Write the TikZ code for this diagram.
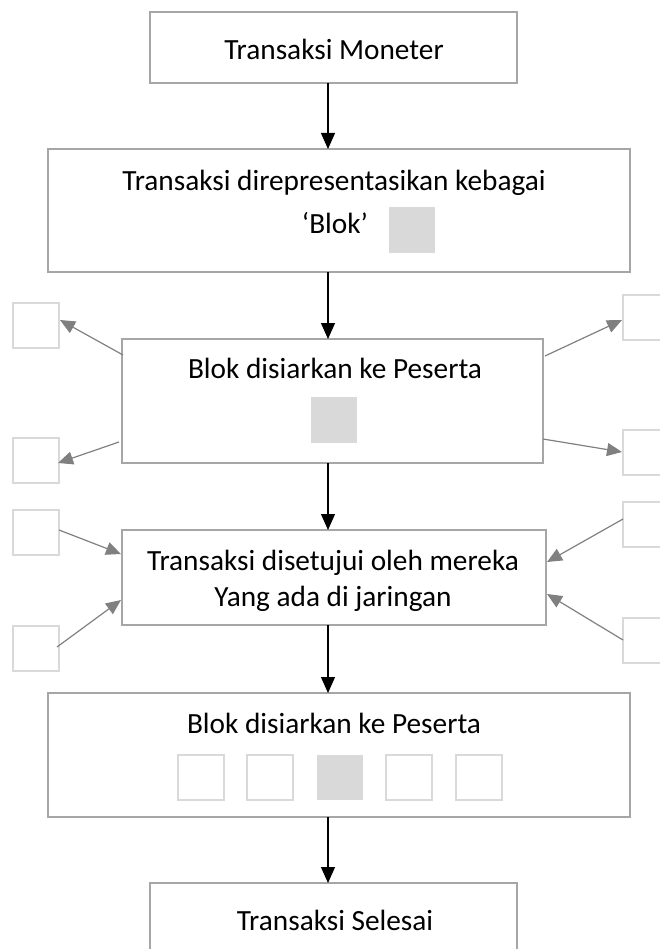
\documentclass[tikz,border=0pt]{standalone}
\usepackage{fontspec}
\setmainfont{Carlito}
\usetikzlibrary{arrows.meta,calc}
\definecolor{boxgray}{HTML}{A6A6A6}
\definecolor{peergray}{HTML}{D9D9D9}
\definecolor{arrowgray}{HTML}{808080}

\begin{document}
\begin{tikzpicture}[x=1pt,y=-1pt,
  stage/.style={draw=boxgray, line width=2pt, anchor=north west, inner sep=0pt, outer sep=0pt},
  peer/.style={draw=peergray, line width=2pt, anchor=north west, minimum width=46pt, minimum height=45pt, inner sep=0pt, outer sep=0pt},
  block/.style={fill=peergray, draw=none, anchor=north west, minimum width=46pt, minimum height=46pt, inner sep=0pt},
  stagetext/.style={anchor=base, font=\fontsize{29.3}{35}\selectfont, inner sep=0pt},
  flow/.style={-{Triangle[length=16pt,width=14pt]}, line width=1.2pt, black},
  spread/.style={-{Triangle[length=15pt,width=13pt]}, line width=1.2pt, arrowgray}]

\useasboundingbox (0,0) rectangle (659,949);

% vertical spine of the flow
\coordinate (spine) at (328,0);

% stages
\node[stage, minimum width=367pt, minimum height=71pt]  (b1) at (150,12)  {};
\node[stage, minimum width=582pt, minimum height=123pt] (b2) at (48,149)  {};
\node[stage, minimum width=421pt, minimum height=124pt] (b3) at (122,339) {};
\node[stage, minimum width=424pt, minimum height=95pt]  (b4) at (122,530) {};
\node[stage, minimum width=582pt, minimum height=124pt] (b5) at (48,693)  {};
\node[stage, minimum width=367pt, minimum height=90pt]  (b6) at (150,883) {};

% stage texts
\node[stagetext] (t1)  at (334,60)  {Transaksi Moneter};
\node[stagetext] (t2a) at (334,191) {Transaksi direpresentasikan kebagai};
\node[stagetext] (t2b) at (335,234) {‘Blok’};
\node[stagetext] (t3)  at (335,378) {Blok disiarkan ke Peserta};
\node[stagetext] (t4a) at (333,570) {Transaksi disetujui oleh mereka};
\node[stagetext] (t4b) at (333,606) {Yang ada di jaringan};
\node[stagetext] (t5)  at (334,733) {Blok disiarkan ke Peserta};
\node[stagetext] (t6)  at (335,930) {Transaksi Selesai};

% blocks inside stages
\node[block] (k2) at (389,207) {};
\node[block] (k3) at (311,397) {};

% chain of blocks
\node[peer]  (c1) at (178,755) {};
\node[peer]  (c2) at (247,755) {};
\node[block, minimum height=45pt] (c3) at (317,755) {};
\node[peer]  (c4) at (386,755) {};
\node[peer]  (c5) at (456,755) {};

% participants
\node[peer] (pL1) at (13,303)  {};
\node[peer] (pL2) at (13,438)  {};
\node[peer] (pR1) at (623,295) {};
\node[peer] (pR2) at (623,430) {};
\node[peer] (pL3) at (13,510)  {};
\node[peer] (pL4) at (13,626)  {};
\node[peer] (pR3) at (623,502) {};
\node[peer] (pR4) at (623,618) {};

% main flow
\draw[flow] (spine |- b1.south) -- (spine |- b2.north);
\draw[flow] (spine |- b2.south) -- (spine |- b3.north);
\draw[flow] (spine |- b3.south) -- (spine |- b4.north);
\draw[flow] (spine |- b4.south) -- (spine |- b5.north);
\draw[flow] (spine |- b5.south) -- (spine |- b6.north);

% broadcast to participants
\draw[spread] ($(b3.north west)+(1,16)$)  -- ($(pL1.north east)+(1,17)$);
\draw[spread] ($(b3.north west)+(-3,103)$) -- ($(pL2.north east)+(-1,25)$);
\draw[spread] ($(b3.north east)+(2,17)$)  -- ($(pR1.north west)+(-1,25)$);
\draw[spread] ($(b3.north east)+(0,100)$) -- ($(pR2.north west)+(-1,22)$);

% approvals from participants
\draw[spread] ($(pL3.north east)+(0,20)$) -- ($(b4.north west)+(-1,24)$);
\draw[spread] ($(pL4.north east)+(-2,21)$) -- ($(b4.north west)+(-1,70)$);
\draw[spread] ($(pR3.north west)+(0,17)$) -- ($(b4.north east)+(1,32)$);
\draw[spread] ($(pR4.north west)+(0,22)$) -- ($(b4.north east)+(1,64)$);
\end{tikzpicture}
\end{document}
